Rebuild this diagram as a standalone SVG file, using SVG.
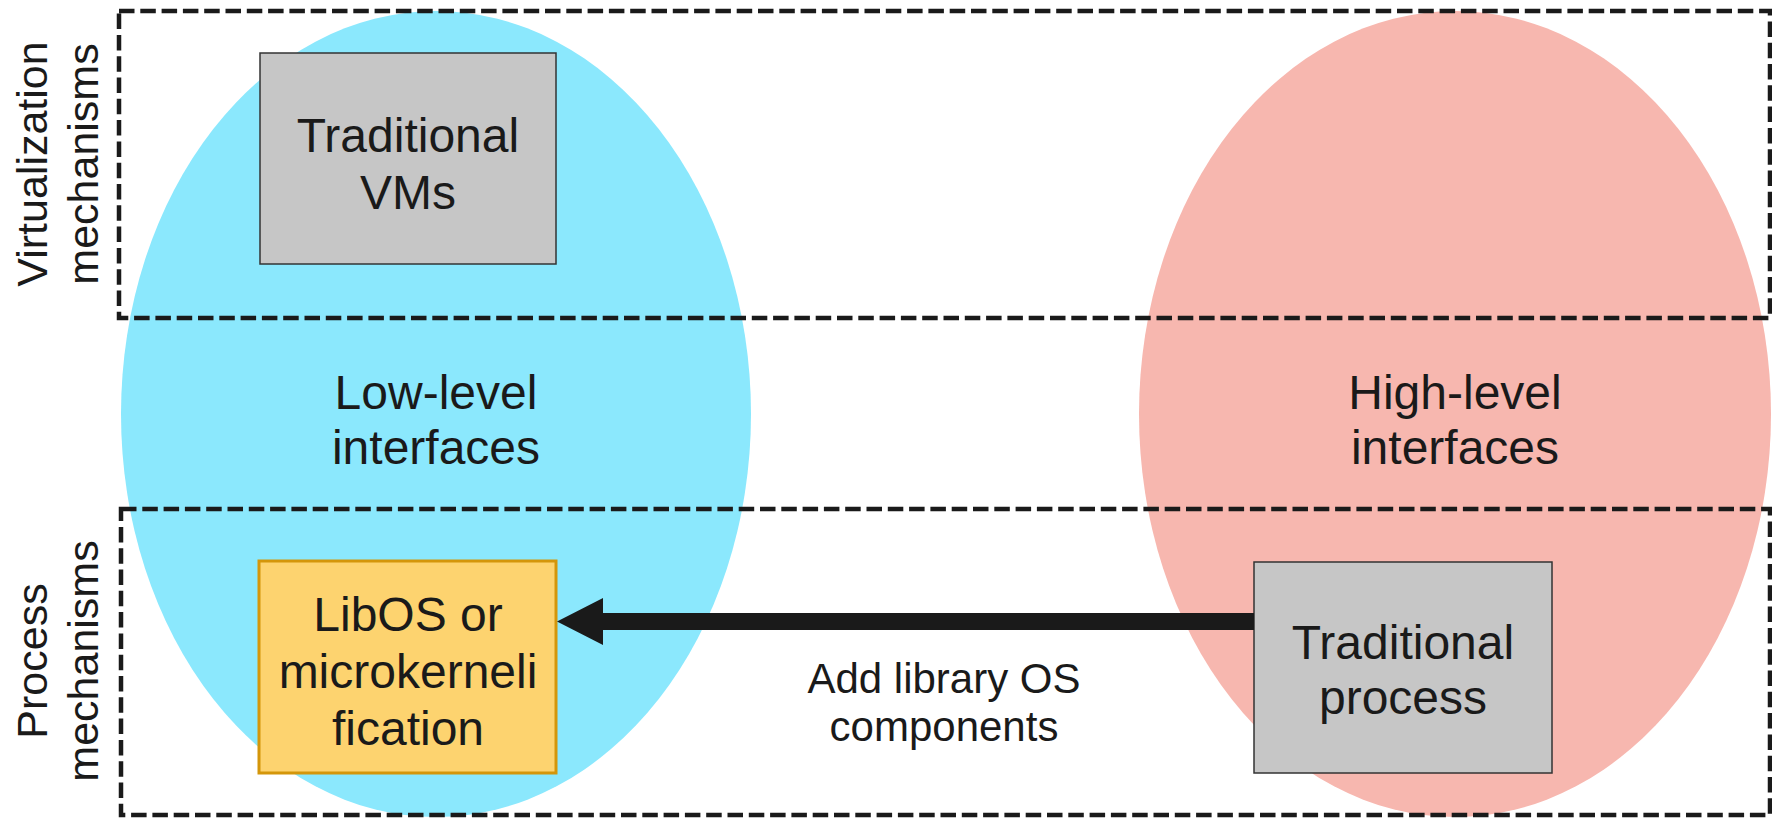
<svg xmlns="http://www.w3.org/2000/svg" width="1772" height="818" viewBox="0 0 1772 818">
<style>
text{font-family:"Liberation Sans",Arial,sans-serif;fill:#1a1a1a;text-anchor:middle}
.big{font-size:48px}
.side{font-size:43px}
.lbl{font-size:42px}
.dash{fill:none;stroke:#1a1a1a;stroke-width:4.5;stroke-dasharray:15.5 5.8}
.gray{fill:#c6c6c6;stroke:#333;stroke-width:1.5}
.orange{fill:#fdd36f;stroke:#d4960a;stroke-width:3}
</style>
<rect width="1772" height="818" fill="#fff"/>
<g id="low-level">
<ellipse cx="436" cy="414" rx="315" ry="403" fill="#8be8fd"/>
<text class="big" x="436" y="409">Low-level</text>
<text class="big" x="436" y="464">interfaces</text>
</g>
<g id="high-level">
<ellipse cx="1455" cy="414" rx="316" ry="403" fill="#f7b7af"/>
<text class="big" x="1455" y="409">High-level</text>
<text class="big" x="1455" y="464">interfaces</text>
</g>
<g id="virtualization">
<rect class="dash" x="119" y="11" width="1651" height="307"/>
<g transform="translate(47,164) rotate(-90)"><text class="side" x="0" y="0">Virtualization</text><text class="side" x="0" y="51">mechanisms</text></g>
</g>
<g id="process">
<rect class="dash" x="121" y="509" width="1649" height="306"/>
<g transform="translate(47,661) rotate(-90)"><text class="side" x="0" y="0">Process</text><text class="side" x="0" y="51">mechanisms</text></g>
</g>
<g id="traditional-vms">
<rect class="gray" x="260" y="53" width="296" height="211"/>
<text class="big" x="408" y="152">Traditional</text>
<text class="big" x="408" y="209">VMs</text>
</g>
<g id="libos">
<rect class="orange" x="259" y="561" width="297" height="212"/>
<text class="big" x="408" y="631">LibOS or</text>
<text class="big" x="408" y="688">microkerneli</text>
<text class="big" x="408" y="745">fication</text>
</g>
<g id="traditional-process">
<rect class="gray" x="1254" y="562" width="298" height="211"/>
<text class="big" x="1403" y="659">Traditional</text>
<text class="big" x="1403" y="714">process</text>
</g>
<g id="connectors">
<path d="M1254 613 L603 613 L603 598 L557 621.5 L603 645 L603 630 L1254 630 Z" fill="#1a1a1a"/>
<text class="lbl" x="944" y="693">Add library OS</text>
<text class="lbl" x="944" y="741">components</text>
</g>
</svg>
